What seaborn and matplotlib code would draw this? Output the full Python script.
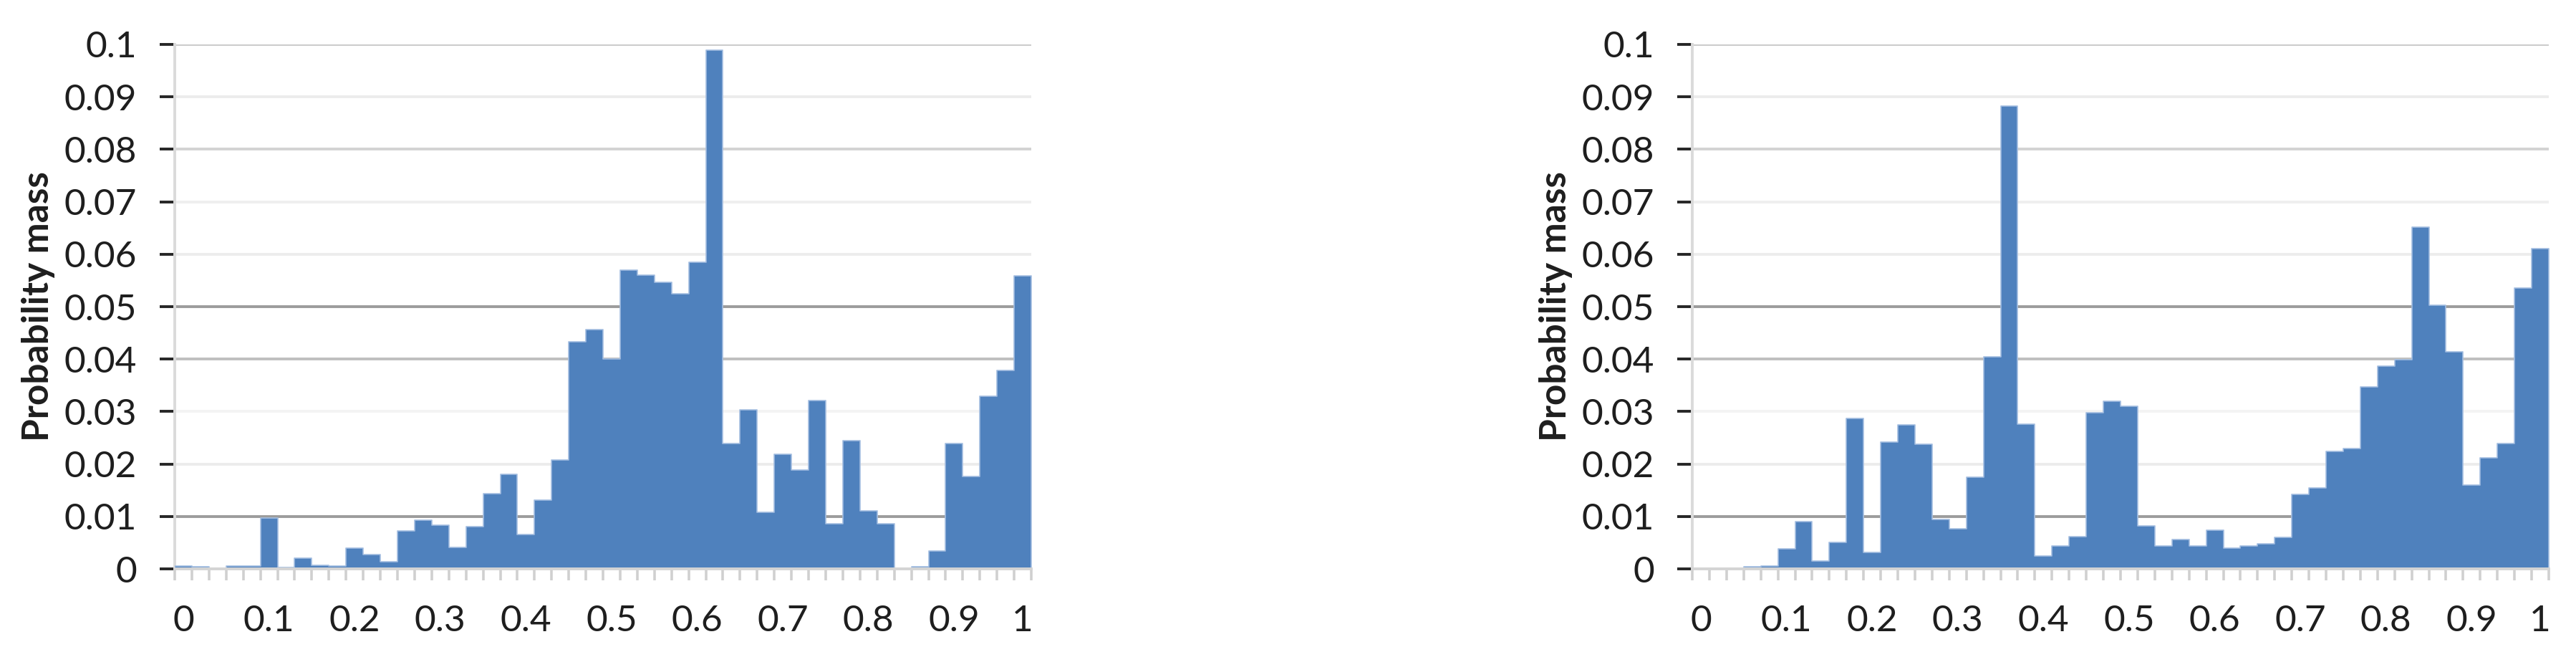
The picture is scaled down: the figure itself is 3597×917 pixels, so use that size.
import numpy as np
import pandas as pd
import matplotlib.pyplot as plt
import seaborn as sns

# 50 bins of width 0.02 on [0, 1]
bin_edges = np.linspace(0, 1, 51)
bin_centers = (bin_edges[:-1] + bin_edges[1:]) / 2

# probability mass per bin
mass_left = [0.0005, 0.0004, 0.0, 0.0005, 0.0005, 0.0097, 0.0003, 0.0020, 0.0007, 0.0006,
             0.0039, 0.0027, 0.0013, 0.0072, 0.0093, 0.0083, 0.0041, 0.0081, 0.0143, 0.0181,
             0.0065, 0.0131, 0.0207, 0.0433, 0.0456, 0.0400, 0.0570, 0.0560, 0.0547, 0.0525,
             0.0585, 0.0989, 0.0239, 0.0303, 0.0108, 0.0219, 0.0188, 0.0321, 0.0086, 0.0245,
             0.0111, 0.0086, 0.0, 0.0004, 0.0034, 0.0239, 0.0176, 0.0329, 0.0379, 0.0559]
mass_right = [0.0, 0.0, 0.0, 0.0004, 0.0006, 0.0038, 0.0090, 0.0015, 0.0050, 0.0287,
              0.0032, 0.0242, 0.0274, 0.0238, 0.0094, 0.0076, 0.0175, 0.0404, 0.0882, 0.0276,
              0.0024, 0.0044, 0.0062, 0.0298, 0.0319, 0.0310, 0.0082, 0.0044, 0.0056, 0.0044,
              0.0074, 0.0040, 0.0044, 0.0048, 0.0060, 0.0142, 0.0154, 0.0224, 0.0230, 0.0347,
              0.0386, 0.0399, 0.0652, 0.0503, 0.0414, 0.0160, 0.0212, 0.0239, 0.0536, 0.0610]

# category labels shown under the bars (Excel-style, on bin centres)
tick_bins = [0, 5, 10, 15, 20, 25, 30, 35, 40, 45, 49]
tick_labels = ["0", "0.1", "0.2", "0.3", "0.4", "0.5", "0.6", "0.7", "0.8", "0.9", "1"]
y_ticks = [0, 0.01, 0.02, 0.03, 0.04, 0.05, 0.06, 0.07, 0.08, 0.09, 0.1]
y_labels = ["0", "0.01", "0.02", "0.03", "0.04", "0.05", "0.06", "0.07", "0.08", "0.09", "0.1"]

# gridline shades as they appear in the (resampled) original
grid_shades = ["#d4d4d4", "#9c9c9c", "#ececec", "#f3f3f3", "#bfbfbf", "#9c9c9c",
               "#ededed", "#efefef", "#d3d3d3", "#ececec", "#cacaca"]

sns.set_style("white")
plt.rcParams['font.family'] = ['Lato', 'DejaVu Sans']

bar_color = "#4F81BD"
text_color = "#1e1e1e"

fig = plt.figure(figsize=(35.97, 9.17), dpi=100)
ax_left = fig.add_axes([0.06784, 0.13413, 0.3325, 0.79826])
ax_right = fig.add_axes([0.65694, 0.13413, 0.3325, 0.79826])

for ax, mass in [(ax_left, mass_left), (ax_right, mass_right)]:
    df = pd.DataFrame({"x": bin_centers, "mass": mass})
    sns.histplot(data=df, x="x", weights="mass", binwidth=0.02, binrange=(0, 1),
                 element="step", fill=True, color=bar_color, edgecolor="#a3bde0",
                 linewidth=1.2, alpha=1, ax=ax, zorder=2)
    ax.set_xlim(0, 1)
    ax.set_ylim(0, 0.1)

    for y, c in zip(y_ticks, grid_shades):
        ax.axhline(y, color=c, lw=2.8, zorder=0.5)

    ax.set_yticks(y_ticks)
    ax.set_yticklabels(y_labels)
    ax.tick_params(axis="y", length=15, width=2.8, pad=23, labelsize=37,
                   labelcolor=text_color, direction="out", left=True)
    for tick, c in zip(ax.yaxis.get_major_ticks(), grid_shades):
        tick.tick1line.set_color(c)

    ax.set_xticks(bin_centers[tick_bins])
    ax.set_xticklabels(tick_labels)
    ax.set_xticks(bin_edges, minor=True)
    ax.tick_params(axis="x", which="major", length=0, pad=36, labelsize=37,
                   labelcolor=text_color)
    ax.tick_params(axis="x", which="minor", length=11.5, width=2.6,
                   color="#d0d0d0", direction="out", bottom=True)

    for side in ["top", "right"]:
        ax.spines[side].set_visible(False)
    ax.spines["left"].set_color("#dadada")
    ax.spines["left"].set_linewidth(2.8)
    ax.spines["bottom"].set_color("#d4d4d4")
    ax.spines["bottom"].set_linewidth(2.8)
    ax.spines["left"].set_zorder(0.6)

    ax.set_ylabel("Probability mass", fontsize=37, fontweight="bold", color=text_color)
    ax.yaxis.set_label_coords(-0.1396, 0.5)
    ax.set_xlabel("")

fig.savefig("out.png", dpi=100)
